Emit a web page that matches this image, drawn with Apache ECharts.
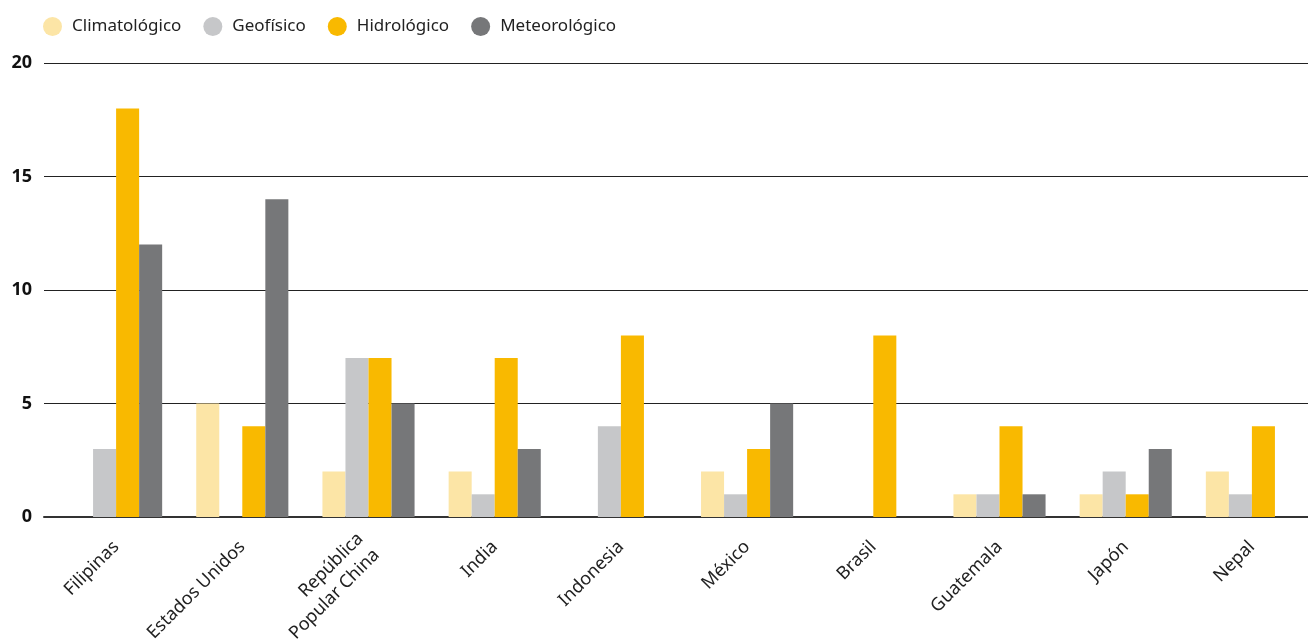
<!DOCTYPE html>
<html>
<head>
<meta charset="utf-8">
<script src="https://cdn.jsdelivr.net/npm/echarts@6/dist/echarts.min.js"></script>
<style>html,body{margin:0;padding:0;background:#fff;}#c{width:1308px;height:644px;}</style>
</head>
<body>
<div id="c"></div>
<script>
const categories = ['Filipinas','Estados Unidos','República\nPopular China','India','Indonesia','México','Brasil','Guatemala','Japón','Nepal'];
const climatologico = [0,5,2,2,0,2,0,1,1,2];
const geofisico = [3,0,7,1,4,1,0,1,2,1];
const hidrologico = [18,4,7,7,8,3,8,4,1,4];
const meteorologico = [12,14,5,3,0,5,0,1,3,0];
const seriesNames = ['Climatológico','Geofísico','Hidrológico','Meteorológico'];
const colors = ['#FCE5A6','#C6C7C9','#F9B900','#767779'];
const yTicks = [0,5,10,15,20];

const chart = echarts.init(document.getElementById('c'));
const font = 'Noto Sans';
const dataSets = [climatologico, geofisico, hidrologico, meteorologico];
chart.setOption({
  animation: false,
  color: colors,
  legend: {
    left: 38, top: 12,
    icon: 'circle', itemWidth: 19, itemHeight: 19, itemGap: 22,
    textStyle: {fontFamily: font, fontSize: 17, color: '#222', padding: [0, 0, 0, 5]},
    data: seriesNames
  },
  grid: [
    {left: 53, width: 1262, top: 63, bottom: 127, outerBoundsMode: 'none'},
    {left: 44, right: 0, top: 63, bottom: 127, outerBoundsMode: 'none'}
  ],
  xAxis: [
    {type: 'category', gridIndex: 0, data: categories,
     axisLine: {show: false}, axisTick: {show: false},
     axisLabel: {rotate: 45, margin: 27, fontFamily: font, fontSize: 18, color: '#222', interval: 0, lineHeight: 23}},
    {type: 'category', gridIndex: 1, data: categories, show: true,
     axisLine: {show: true, lineStyle: {color: '#333', width: 2}}, axisTick: {show: false}, axisLabel: {show: false}}
  ],
  yAxis: [
    {type: 'value', gridIndex: 0, min: 0, max: 20, interval: 5, show: false, splitLine: {show: false}},
    {type: 'value', gridIndex: 1, min: 0, max: 20, interval: 5,
     axisLine: {show: false}, axisTick: {show: false},
     axisLabel: {margin: 12, fontFamily: font, fontSize: 18, fontWeight: 'bold', color: '#111',
       formatter: v => yTicks.includes(v) ? String(v) : ''},
     splitLine: {lineStyle: {color: '#222', width: 1}}}
  ],
  series: seriesNames.map((n, i) => ({
    name: n, type: 'bar', xAxisIndex: 0, yAxisIndex: 0,
    data: dataSets[i], barGap: '0%', barCategoryGap: '27%',
    itemStyle: {color: colors[i]}, z: 1
  }))
});
</script>
</body>
</html>
